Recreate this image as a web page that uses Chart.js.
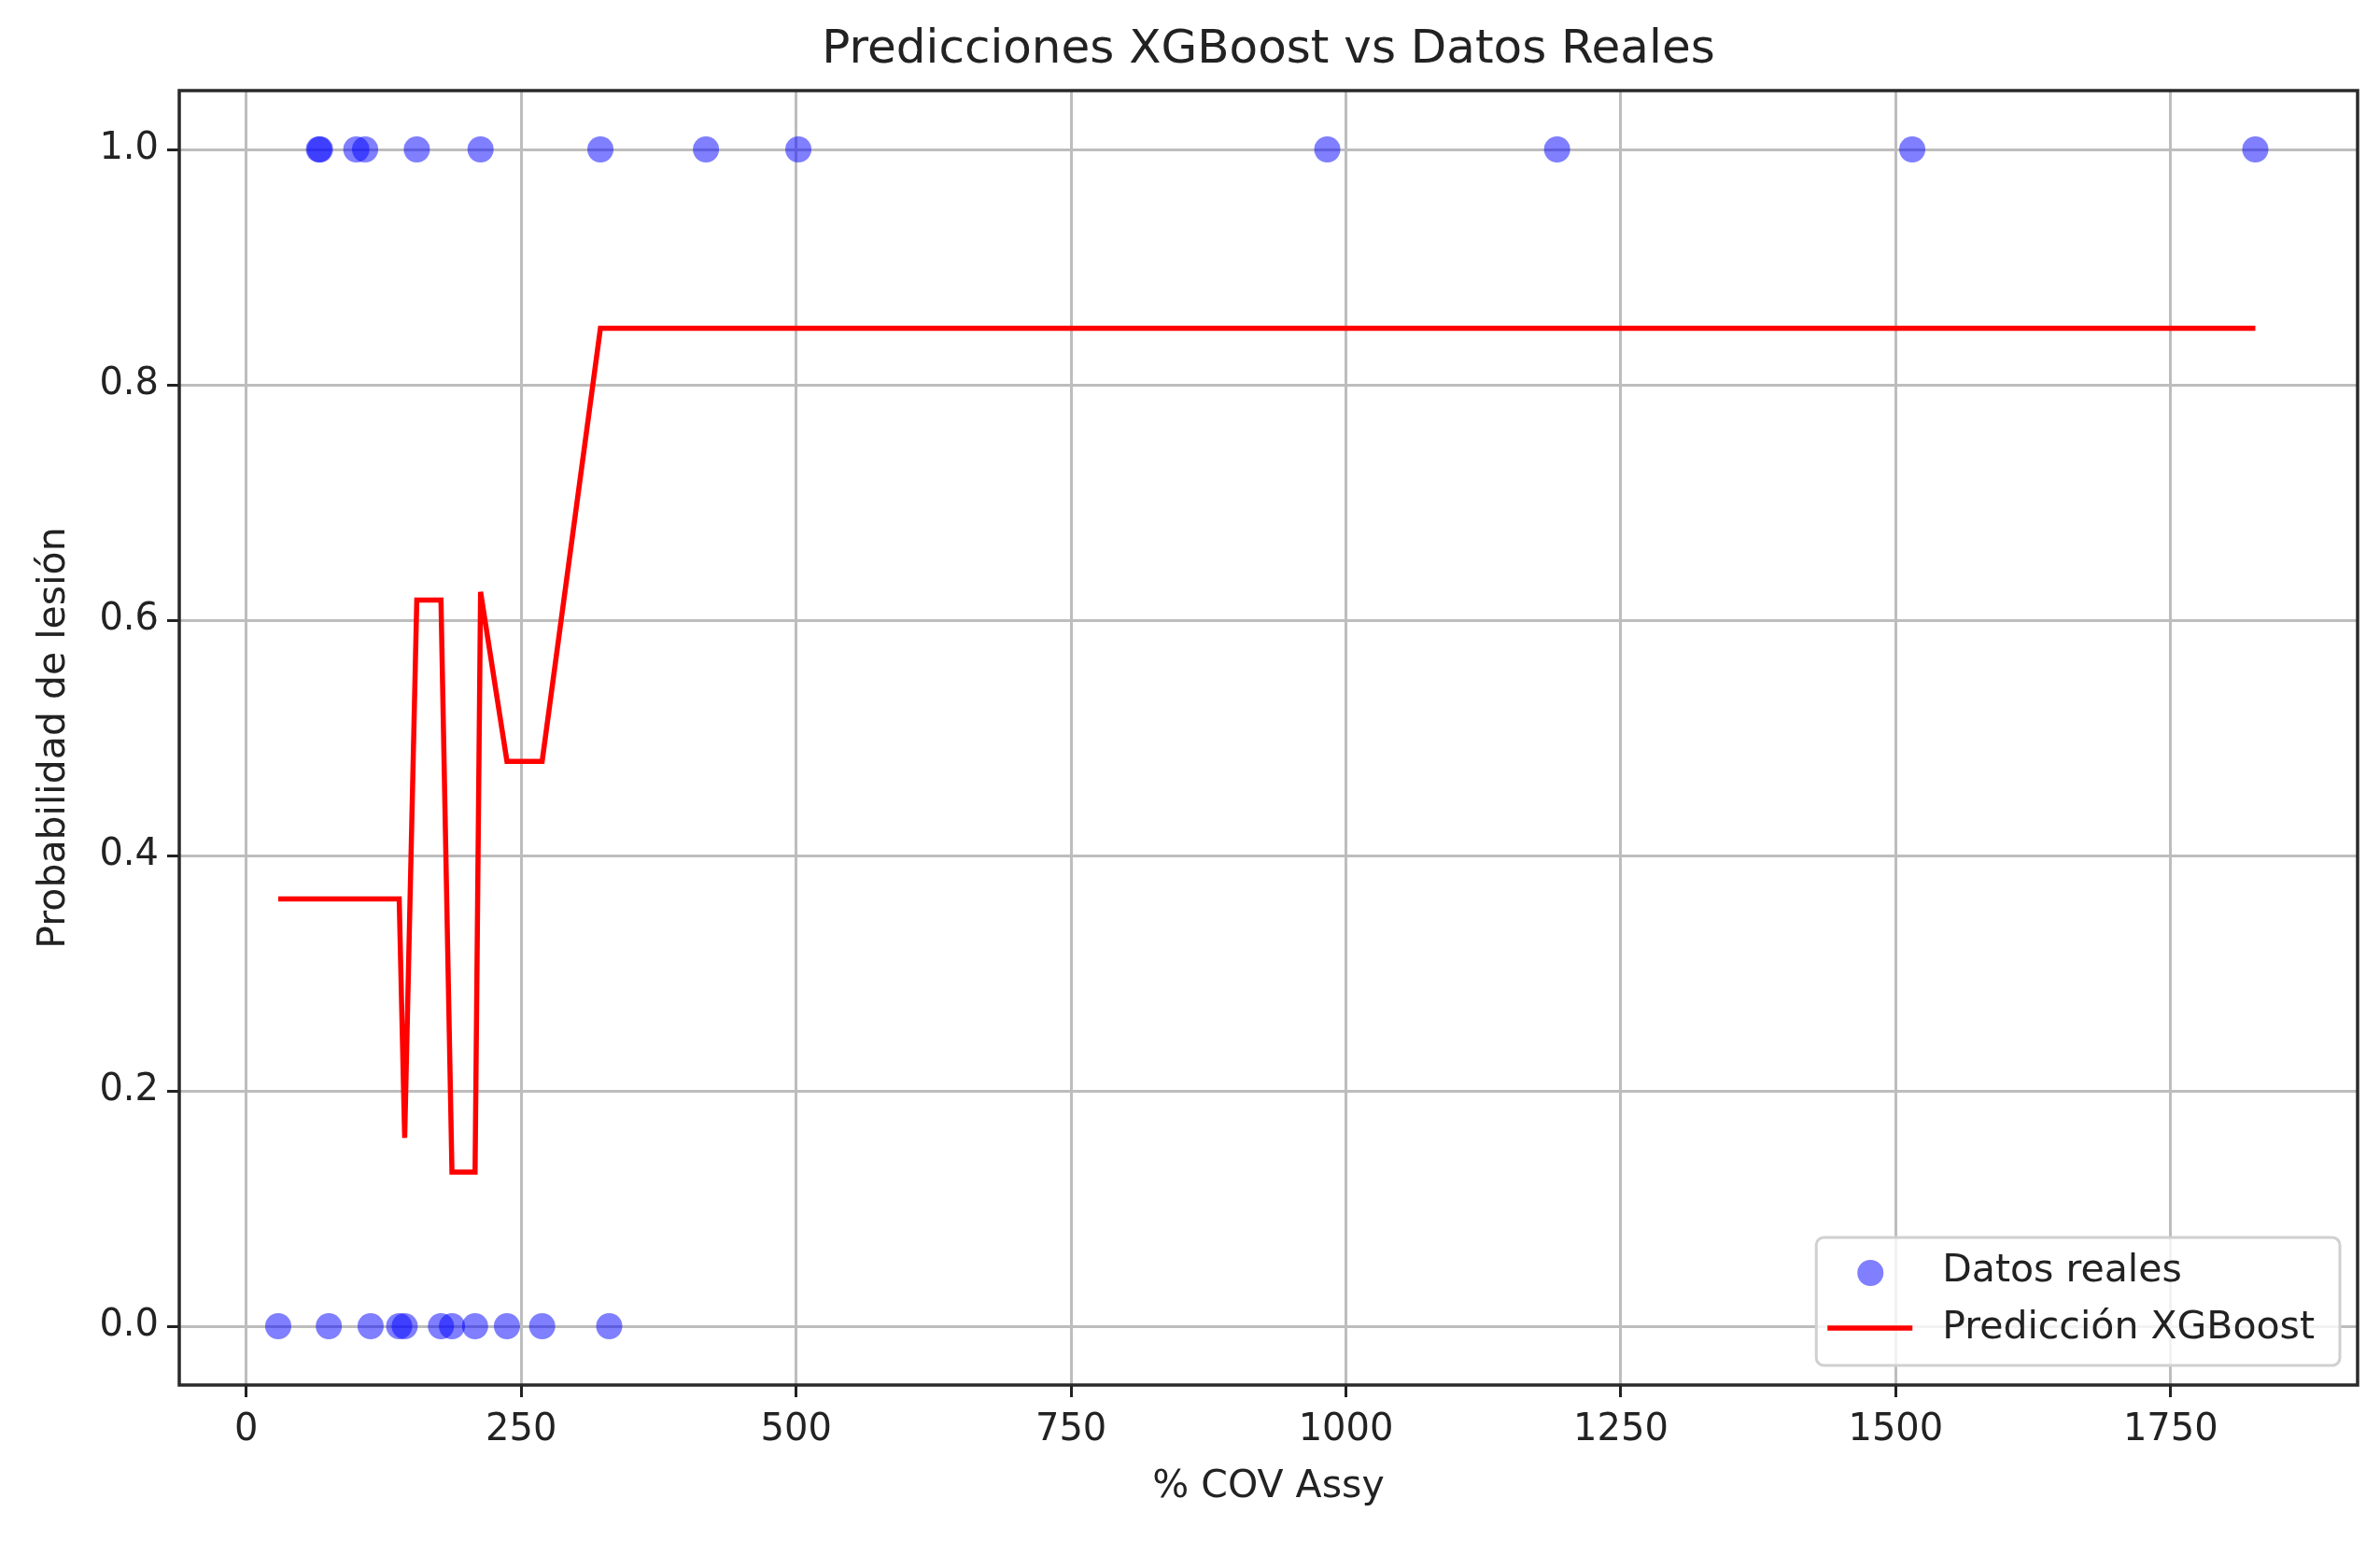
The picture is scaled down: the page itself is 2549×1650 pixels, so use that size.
<!DOCTYPE html>
<html>
<head>
<meta charset="utf-8">
<script src="https://cdn.jsdelivr.net/npm/chart.js@4.4.1/dist/chart.umd.min.js"></script>
<style>
  html, body { margin: 0; padding: 0; background: #fff; }
  #wrap { width: 2549px; height: 1650px; }
</style>
</head>
<body>
<div id="wrap"><canvas id="chart" width="2549" height="1650"></canvas></div>
<script>
// data
const realX = [29, 66, 67, 75, 100, 108, 113, 139, 144, 155, 177, 187, 208, 213, 237, 269, 322, 330, 418, 502, 983, 1192, 1515, 1827];
const realY = [0, 1, 1, 0, 1, 1, 0, 0, 0, 1, 0, 0, 0, 1, 0, 0, 1, 0, 1, 1, 1, 1, 1, 1];
const predY = [0.363, 0.363, 0.363, 0.363, 0.363, 0.363, 0.363, 0.363, 0.160, 0.617, 0.617, 0.131, 0.131, 0.624, 0.480, 0.480, 0.848, 0.848, 0.848, 0.848, 0.848, 0.848, 0.848, 0.848];
const xTicks = [0, 250, 500, 750, 1000, 1250, 1500, 1750];
const yTicks = [0.0, 0.2, 0.4, 0.6, 0.8, 1.0];

const FONT = '"DejaVu Sans", sans-serif';
const INK = "#222";

const realPts = realX.map((x, i) => ({ x: x, y: realY[i] }));
const predPts = realX.map((x, i) => ({ x: x, y: predY[i] }));

// frame round the plot area (all four spines)
const frame = {
    id: "frame",
    afterDatasetsDraw(chart) {
        const a = chart.chartArea;
        const ctx = chart.ctx;
        ctx.save();
        ctx.strokeStyle = "#2a2a2a";
        ctx.lineWidth = 3.5;
        ctx.strokeRect(a.left, a.top, a.right - a.left, a.bottom - a.top);
        ctx.restore();
    }
};

// matplotlib-like legend in lower right corner
const boxLegend = {
    id: "boxLegend",
    afterDraw(chart) {
        const a = chart.chartArea;
        const ctx = chart.ctx;
        ctx.save();
        ctx.font = "41px " + FONT;
        const labels = chart.data.datasets.map(d => d.label);
        const tw = Math.max(...labels.map(t => ctx.measureText(t).width));
        const w = 135 + tw + 27;
        const h = 137;
        const x0 = a.right - 19 - w;
        const y0 = a.bottom - 21 - h;
        const r = 8;
        ctx.beginPath();
        ctx.moveTo(x0 + r, y0);
        ctx.lineTo(x0 + w - r, y0);
        ctx.arcTo(x0 + w, y0, x0 + w, y0 + r, r);
        ctx.lineTo(x0 + w, y0 + h - r);
        ctx.arcTo(x0 + w, y0 + h, x0 + w - r, y0 + h, r);
        ctx.lineTo(x0 + r, y0 + h);
        ctx.arcTo(x0, y0 + h, x0, y0 + h - r, r);
        ctx.lineTo(x0, y0 + r);
        ctx.arcTo(x0, y0, x0 + r, y0, r);
        ctx.closePath();
        ctx.fillStyle = "rgba(255,255,255,0.8)";
        ctx.fill();
        ctx.strokeStyle = "#d0d0d0";
        ctx.lineWidth = 3;
        ctx.stroke();

        const row1 = y0 + 36, row2 = y0 + 97;
        // marker
        ctx.beginPath();
        ctx.arc(x0 + 58, row1 + 2, 14, 0, Math.PI * 2);
        ctx.fillStyle = "rgba(0,0,255,0.5)";
        ctx.fill();
        // line
        ctx.beginPath();
        ctx.moveTo(x0 + 12, row2);
        ctx.lineTo(x0 + 103, row2);
        ctx.strokeStyle = "#ff0000";
        ctx.lineWidth = 5.5;
        ctx.stroke();

        ctx.fillStyle = INK;
        ctx.textBaseline = "middle";
        ctx.textAlign = "left";
        ctx.fillText(labels[0], x0 + 135, row1);
        ctx.fillText(labels[1], x0 + 135, row2);
        ctx.restore();
    }
};

const gridOpts = {
    color: "#bdbdbd",
    lineWidth: 3,
    drawTicks: true,
    tickColor: INK,
    tickWidth: 3,
    tickLength: 13
};

new Chart(document.getElementById("chart"), {
    type: "scatter",
    data: {
        datasets: [
            {
                label: "Datos reales",
                data: realPts,
                backgroundColor: "rgba(0,0,255,0.5)",
                borderWidth: 0,
                pointRadius: 14,
                pointHoverRadius: 14,
                order: 2
            },
            {
                label: "Predicción XGBoost",
                data: predPts,
                showLine: true,
                borderColor: "#ff0000",
                borderWidth: 5.5,
                pointRadius: 0,
                pointHoverRadius: 0,
                fill: false,
                tension: 0,
                order: 1
            }
        ]
    },
    options: {
        responsive: false,
        devicePixelRatio: 1,
        animation: false,
        events: [],
        layout: { padding: { left: 0, right: 24, top: 0, bottom: 0 } },
        plugins: {
            legend: { display: false },
            tooltip: { enabled: false },
            title: {
                display: true,
                fullSize: false,
                text: "Predicciones XGBoost vs Datos Reales",
                color: INK,
                font: { family: FONT, size: 50, weight: "normal", lineHeight: 1.2 },
                padding: { top: 24, bottom: 13 }
            }
        },
        scales: {
            x: {
                type: "linear",
                min: -61,
                max: 1920,
                border: { display: false },
                grid: gridOpts,
                afterBuildTicks: s => { s.ticks = xTicks.map(v => ({ value: v })); },
                afterFit: s => { s.height = 167; },
                ticks: {
                    color: INK,
                    padding: 12,
                    maxRotation: 0,
                    font: { family: FONT, size: 40 },
                    callback: v => String(v)
                },
                title: {
                    display: true,
                    text: "% COV Assy",
                    color: INK,
                    font: { family: FONT, size: 41, lineHeight: 1.2 },
                    padding: { top: 0, bottom: 33 }
                }
            },
            y: {
                type: "linear",
                min: -0.05,
                max: 1.05,
                border: { display: false },
                grid: gridOpts,
                afterBuildTicks: s => { s.ticks = yTicks.map(v => ({ value: v })); },
                afterFit: s => { s.width = 192; },
                ticks: {
                    color: INK,
                    padding: 9,
                    font: { family: FONT, size: 40 },
                    callback: v => Number(v).toFixed(1)
                },
                title: {
                    display: true,
                    text: "Probabilidad de lesión",
                    color: INK,
                    font: { family: FONT, size: 41, lineHeight: 1.2 },
                    padding: { top: 34, bottom: 0 }
                }
            }
        }
    },
    plugins: [frame, boxLegend]
});
</script>
</body>
</html>
